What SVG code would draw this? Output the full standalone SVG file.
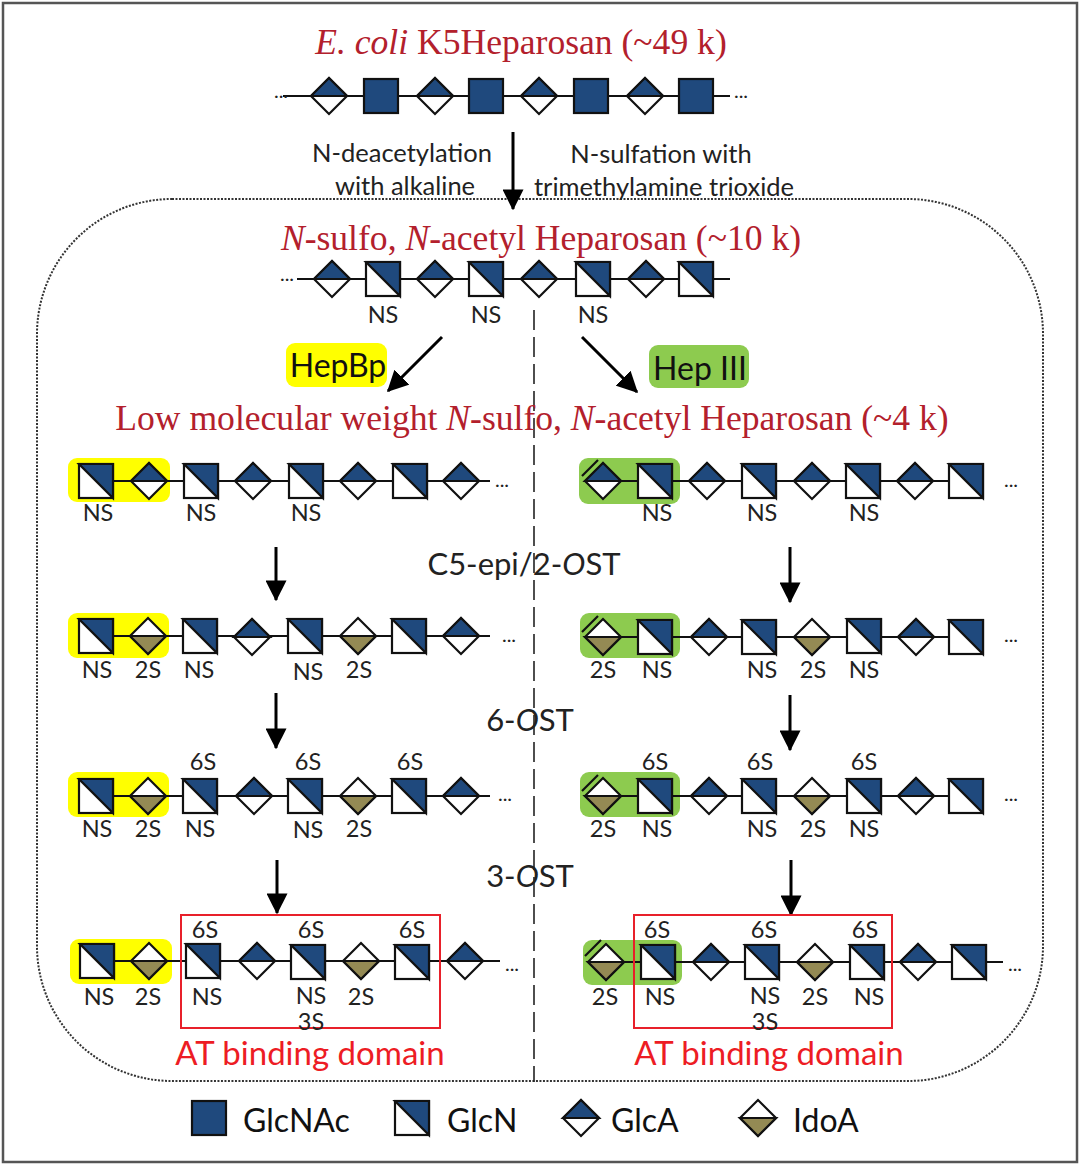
<svg xmlns="http://www.w3.org/2000/svg" width="1080" height="1165" viewBox="0 0 1080 1165">
<style>
.s{stroke:#111;stroke-width:2.2;stroke-linejoin:miter}
.l{stroke:#111;stroke-width:2.2;fill:none}
.a{stroke:#000;stroke-width:3;fill:none;marker-end:url(#ah)}
.n{fill:#1f497d}.w{fill:#fff}.k{fill:#948a54}
text{font-family:"Lato","Open Sans",sans-serif}
.t{font-size:23.5px;fill:#222;text-anchor:middle}
.c{font-size:25.5px;fill:#222;text-anchor:middle}
.e{font-size:31px;fill:#222;text-anchor:middle}
.h{font-size:32px;fill:#111;text-anchor:middle}
.g{font-size:32px;fill:#111}
.r{font-family:"Liberation Serif",serif;font-size:35.6px;fill:#b3202c;text-anchor:middle}
.at{font-size:33px;fill:#ed1c24;text-anchor:middle}
.y{fill:#ffff00}.gr{fill:#8dcb4f}
.b{fill:none;stroke:#e8202a;stroke-width:2}
.dot{font-size:20px;fill:#222;text-anchor:middle}
.i{font-style:italic}
</style>
<defs>
<marker id="ah" markerWidth="7" markerHeight="7" refX="5.6" refY="3" orient="auto" markerUnits="strokeWidth" viewBox="0 0 6 6"><path d="M0 0L6 3L0 6Z" fill="#000"/></marker>
<g id="A"><rect x="-17" y="-17" width="34" height="34" class="n s"/></g>
<g id="N"><rect x="-17" y="-17" width="34" height="34" class="w s"/><path d="M-17 -17H17V17Z" class="n s"/></g>
<g id="G"><path d="M-18 0L0 -18L18 0L0 18Z" class="w s"/><path d="M-18 0L0 -18L18 0Z" class="n s"/></g>
<g id="I"><path d="M-18 0L0 -18L18 0L0 18Z" class="w s"/><path d="M-18 0L0 18L18 0Z" class="k s"/></g>
</defs>
<rect width="1080" height="1165" fill="#fff"/>
<rect x="3" y="3" width="1074" height="1159" fill="none" stroke="#555" stroke-width="2.5"/>
<rect id="boundary" x="37" y="199" width="1006" height="882" rx="135" ry="135" fill="none" stroke="#333" stroke-width="2" stroke-dasharray="2 1.5"/>

<g id="highlights">
<rect x="286" y="343" width="101" height="44" rx="9" class="y"/>
<rect x="649" y="345" width="100" height="43" rx="9" class="gr"/>
<rect x="68" y="458" width="102" height="44" rx="9" class="y"/>
<rect x="68" y="613" width="101" height="45" rx="9" class="y"/>
<rect x="68" y="772" width="101" height="45" rx="9" class="y"/>
<rect x="70" y="939" width="102" height="45" rx="9" class="y"/>
<rect x="579" y="458" width="101" height="46" rx="9" class="gr"/>
<rect x="580" y="613" width="100" height="45" rx="9" class="gr"/>
<rect x="580" y="772" width="100" height="45" rx="9" class="gr"/>
<rect x="583" y="940" width="99" height="45" rx="9" class="gr"/>
</g>

<g id="connectors">
<path class="l" d="M283 96H730M297 279H730M113 481H490M113 636H490M113 796H490M115 961H500M601 481H984M603 637H984M603 796H984M606 962H1003"/>
<line x1="534" y1="310" x2="534" y2="1082" stroke="#222" stroke-width="1.6" stroke-dasharray="20 7"/>
<line class="a" x1="513" y1="132" x2="513" y2="209"/>
<line class="a" x1="442" y1="337" x2="388" y2="391"/>
<line class="a" x1="582" y1="337" x2="637" y2="392"/>
<line class="a" x1="276" y1="547" x2="276" y2="600"/>
<line class="a" x1="790" y1="547" x2="790" y2="602"/>
<line class="a" x1="276" y1="693" x2="276" y2="748"/>
<line class="a" x1="790" y1="695" x2="790" y2="750"/>
<line class="a" x1="277" y1="860" x2="277" y2="913"/>
<line class="a" x1="791" y1="860" x2="791" y2="915"/>
<path class="l" d="M582 476L598 460M582 632L598 616M582 791L598 775M585 956L601 940"/>
</g>

<g id="titles">
<text class="r" x="521" y="54"><tspan class="i">E. coli</tspan> K5Heparosan (~49 k)</text>
<text class="r" x="541" y="250"><tspan class="i">N</tspan>-sulfo, <tspan class="i">N</tspan>-acetyl Heparosan (~10 k)</text>
<text class="r" x="532" y="430">Low molecular weight <tspan class="i">N</tspan>-sulfo, <tspan class="i">N</tspan>-acetyl Heparosan (~4 k)</text>
<text class="c" x="402" y="162">N-deacetylation</text>
<text class="c" x="405" y="195">with alkaline</text>
<text class="c" x="661" y="163">N-sulfation with</text>
<text class="c" x="664" y="196">trimethylamine trioxide</text>
<text class="h" x="338" y="377">HepBp</text>
<text class="h" x="700" y="380">Hep III</text>
<text class="e" x="524" y="575">C5-epi/2-<tspan class="i">O</tspan>ST</text>
<text class="e" x="530" y="731">6-<tspan class="i">O</tspan>ST</text>
<text class="e" x="530" y="887">3-<tspan class="i">O</tspan>ST</text>
<text class="at" x="310" y="1065">AT binding domain</text>
<text class="at" x="769" y="1065">AT binding domain</text>
<text class="dot" x="281" y="98">...</text><text class="dot" x="741" y="98">...</text>
<text class="dot" x="287" y="281">...</text>
<text class="dot" x="502" y="487">...</text><text class="dot" x="1011" y="487">...</text>
<text class="dot" x="509" y="642">...</text><text class="dot" x="1011" y="642">...</text>
<text class="dot" x="505" y="801">...</text><text class="dot" x="1011" y="801">...</text>
<text class="dot" x="512" y="971">...</text><text class="dot" x="1015" y="971">...</text>
</g>

<rect id="at-left" class="b" x="181" y="915" width="259" height="113"/>
<rect id="at-right" class="b" x="634" y="915" width="258" height="113"/>

<g id="a1"><use href="#G" x="329" y="96"/></g>
<g id="a2"><use href="#A" x="381" y="96"/></g>
<g id="a3"><use href="#G" x="435" y="96"/></g>
<g id="a4"><use href="#A" x="486" y="96"/></g>
<g id="a5"><use href="#G" x="539" y="96"/></g>
<g id="a6"><use href="#A" x="591" y="96"/></g>
<g id="a7"><use href="#G" x="645" y="96"/></g>
<g id="a8"><use href="#A" x="696" y="96"/></g>

<g id="b1"><use href="#G" x="332" y="279"/></g>
<g id="b2"><use href="#N" x="383" y="279"/><text class="t" x="383" y="323">NS</text></g>
<g id="b3"><use href="#G" x="435" y="279"/></g>
<g id="b4"><use href="#N" x="486" y="279"/><text class="t" x="486" y="323">NS</text></g>
<g id="b5"><use href="#G" x="539" y="279"/></g>
<g id="b6"><use href="#N" x="593" y="279"/><text class="t" x="593" y="323">NS</text></g>
<g id="b7"><use href="#G" x="646" y="279"/></g>
<g id="b8"><use href="#N" x="696" y="279"/></g>

<g id="c1"><use href="#N" x="96" y="481"/><text class="t" x="98" y="521">NS</text></g>
<g id="c2"><use href="#G" x="149" y="481"/></g>
<g id="c3"><use href="#N" x="201" y="481"/><text class="t" x="201" y="521">NS</text></g>
<g id="c4"><use href="#G" x="253" y="481"/></g>
<g id="c5"><use href="#N" x="306" y="481"/><text class="t" x="306" y="521">NS</text></g>
<g id="c6"><use href="#G" x="358" y="481"/></g>
<g id="c7"><use href="#N" x="410" y="481"/></g>
<g id="c8"><use href="#G" x="461" y="481"/></g>

<g id="d1"><use href="#N" x="96" y="636"/><text class="t" x="97" y="678">NS</text></g>
<g id="d2"><use href="#I" x="148" y="636"/><text class="t" x="148" y="678">2S</text></g>
<g id="d3"><use href="#N" x="200" y="636"/><text class="t" x="199" y="678">NS</text></g>
<g id="d4"><use href="#G" x="252" y="637"/></g>
<g id="d5"><use href="#N" x="305" y="636"/><text class="t" x="308" y="680">NS</text></g>
<g id="d6"><use href="#I" x="358" y="636"/><text class="t" x="359" y="678">2S</text></g>
<g id="d7"><use href="#N" x="409" y="636"/></g>
<g id="d8"><use href="#G" x="461" y="636"/></g>

<g id="e1"><use href="#N" x="96" y="796"/><text class="t" x="97" y="837">NS</text></g>
<g id="e2"><use href="#I" x="148" y="796"/><text class="t" x="148" y="837">2S</text></g>
<g id="e3"><use href="#N" x="200" y="796"/><text class="t" x="203" y="770">6S</text><text class="t" x="200" y="837">NS</text></g>
<g id="e4"><use href="#G" x="254" y="796"/></g>
<g id="e5"><use href="#N" x="305" y="796"/><text class="t" x="308" y="770">6S</text><text class="t" x="308" y="838">NS</text></g>
<g id="e6"><use href="#I" x="358" y="796"/><text class="t" x="359" y="837">2S</text></g>
<g id="e7"><use href="#N" x="409" y="796"/><text class="t" x="410" y="770">6S</text></g>
<g id="e8"><use href="#G" x="461" y="796"/></g>

<g id="f1"><use href="#N" x="97" y="961"/><text class="t" x="99" y="1005">NS</text></g>
<g id="f2"><use href="#I" x="149" y="961"/><text class="t" x="148" y="1005">2S</text></g>
<g id="f3"><use href="#N" x="203" y="961"/><text class="t" x="205" y="938">6S</text><text class="t" x="207" y="1005">NS</text></g>
<g id="f4"><use href="#G" x="257" y="961"/></g>
<g id="f5"><use href="#N" x="308" y="962"/><text class="t" x="311" y="938">6S</text><text class="t" x="311" y="1004">NS</text><text class="t" x="311" y="1030">3S</text></g>
<g id="f6"><use href="#I" x="361" y="961"/><text class="t" x="361" y="1005">2S</text></g>
<g id="f7"><use href="#N" x="412" y="962"/><text class="t" x="412" y="938">6S</text></g>
<g id="f8"><use href="#G" x="465" y="961"/></g>

<g id="g1"><use href="#G" x="603" y="481"/></g>
<g id="g2"><use href="#N" x="655" y="481"/><text class="t" x="657" y="521">NS</text></g>
<g id="g3"><use href="#G" x="707" y="481"/></g>
<g id="g4"><use href="#N" x="759" y="481"/><text class="t" x="762" y="521">NS</text></g>
<g id="g5"><use href="#G" x="812" y="481"/></g>
<g id="g6"><use href="#N" x="863" y="481"/><text class="t" x="864" y="521">NS</text></g>
<g id="g7"><use href="#G" x="915" y="481"/></g>
<g id="g8"><use href="#N" x="966" y="481"/></g>

<g id="h1"><use href="#I" x="603" y="637"/><text class="t" x="603" y="678">2S</text></g>
<g id="h2"><use href="#N" x="655" y="637"/><text class="t" x="657" y="678">NS</text></g>
<g id="h3"><use href="#G" x="709" y="637"/></g>
<g id="h4"><use href="#N" x="759" y="637"/><text class="t" x="762" y="678">NS</text></g>
<g id="h5"><use href="#I" x="812" y="637"/><text class="t" x="813" y="678">2S</text></g>
<g id="h6"><use href="#N" x="864" y="636"/><text class="t" x="864" y="678">NS</text></g>
<g id="h7"><use href="#G" x="916" y="637"/></g>
<g id="h8"><use href="#N" x="966" y="637"/></g>

<g id="j1"><use href="#I" x="603" y="796"/><text class="t" x="603" y="837">2S</text></g>
<g id="j2"><use href="#N" x="655" y="796"/><text class="t" x="655" y="770">6S</text><text class="t" x="657" y="837">NS</text></g>
<g id="j3"><use href="#G" x="709" y="796"/></g>
<g id="j4"><use href="#N" x="759" y="796"/><text class="t" x="760" y="770">6S</text><text class="t" x="762" y="837">NS</text></g>
<g id="j5"><use href="#I" x="812" y="796"/><text class="t" x="813" y="837">2S</text></g>
<g id="j6"><use href="#N" x="864" y="796"/><text class="t" x="864" y="770">6S</text><text class="t" x="864" y="837">NS</text></g>
<g id="j7"><use href="#G" x="916" y="796"/></g>
<g id="j8"><use href="#N" x="966" y="796"/></g>

<g id="k1"><use href="#I" x="606" y="962"/><text class="t" x="605" y="1005">2S</text></g>
<g id="k2"><use href="#N" x="658" y="962"/><text class="t" x="657" y="938">6S</text><text class="t" x="660" y="1005">NS</text></g>
<g id="k3"><use href="#G" x="711" y="962"/></g>
<g id="k4"><use href="#N" x="762" y="962"/><text class="t" x="764" y="938">6S</text><text class="t" x="765" y="1004">NS</text><text class="t" x="765" y="1030">3S</text></g>
<g id="k5"><use href="#I" x="815" y="962"/><text class="t" x="815" y="1005">2S</text></g>
<g id="k6"><use href="#N" x="867" y="962"/><text class="t" x="865" y="938">6S</text><text class="t" x="869" y="1005">NS</text></g>
<g id="k7"><use href="#G" x="918" y="962"/></g>
<g id="k8"><use href="#N" x="969" y="962"/></g>

<g id="legend-glcnac"><use href="#A" x="209" y="1118"/><text class="g" x="243" y="1132">GlcNAc</text></g>
<g id="legend-glcn"><use href="#N" x="412" y="1118"/><text class="g" x="447" y="1132">GlcN</text></g>
<g id="legend-glca"><use href="#G" x="581" y="1118"/><text class="g" x="611" y="1132">GlcA</text></g>
<g id="legend-idoa"><use href="#I" x="758" y="1118"/><text class="g" x="793" y="1132">IdoA</text></g>
</svg>
